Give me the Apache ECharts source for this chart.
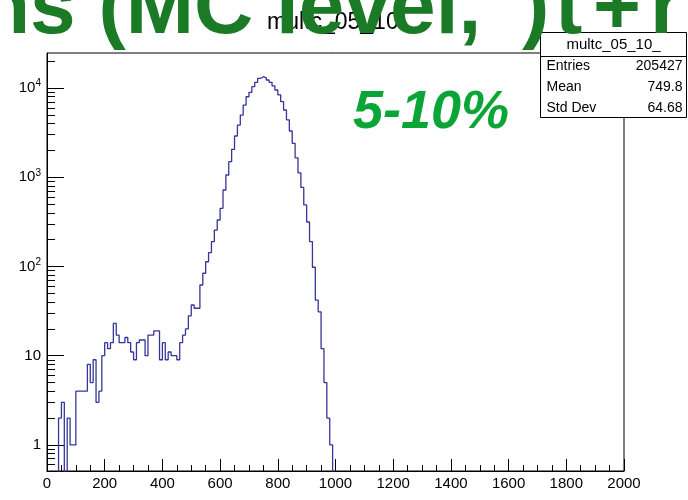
<!DOCTYPE html>
<html><head><meta charset="utf-8">
<script src="https://cdn.jsdelivr.net/npm/echarts@6/dist/echarts.min.js"></script>
<style>html,body{margin:0;padding:0;background:#fff}#c{width:688px;height:500px}</style>
</head><body><div id="c"></div>
<script>
// ---- data (bin width 10, left edges start at 0) ----
const binStart = 0;
const binWidth = 10;
const counts = [
  0,0,0,0,2,3,0,2,1,1,
  4,4,4,4,8,5,9,3,4,10,
  14,12,14,23,17,14,14,16,14,11,
  9,14,15,15,10,17,17,19,19,9,
  14,9,11,10,10,9,14,17,20,28,
  37,34,34,62,84,113,143,190,256,332,
  449,720,1060,1494,2054,2899,3846,4977,6450,7990,
  8950,10350,11600,12800,13400,13000,12300,11600,10600,9500,
  8400,7030,5670,4400,3300,2400,1650,1120,770,490,
  315,190,98,42,31,12,5,2,1,0,
  0
];
const xTicks = [0,200,400,600,800,1000,1200,1400,1600,1800,2000];
const yMajor = [1,10,100,1000,10000];
const yMinor = [0.6,0.7,0.8,0.9,2,3,4,5,6,7,8,9,20,30,40,50,60,70,80,90,200,300,400,500,600,700,800,900,2000,3000,4000,5000,6000,7000,8000,9000,20000];
const statsTitle = 'multc_05_10_';
const statsRows = [['Entries','205427'],['Mean','749.8'],['Std Dev','64.68']];
const histTitle = 'multc_05_10';
const bigTitleParts = ['ns (MC level,', ')', 't', '+', 'r'];
const centLabel = '5-10%';

const FONT = 'Liberation Sans, Arial, sans-serif';
const FLOOR = 1e-3; // empty bins drawn below the axis floor (clipped), like ROOT
const lineData = counts.map((v,i)=>[binStart+i*binWidth, v>0?v:FLOOR]);
lineData.push([binStart+counts.length*binWidth, counts[counts.length-1]>0?counts[counts.length-1]:FLOOR]);

const chart = echarts.init(document.getElementById('c'), null, {renderer:'canvas'});
const supFmt = v => {
  const e = Math.round(Math.log10(v));
  if (Math.abs(Math.log10(v)-e) > 1e-6) return '';
  if (e===0) return '{n|1}';
  if (e===1) return '{n|10}';
  return '{n|10}{s|'+e+'}';
};
const BIG = 'bold 82px "Liberation Sans", Arial, sans-serif';
const bigX = [-20, 522, 555, 593, 650];
chart.setOption({
  animation:false,
  backgroundColor:'#fff',
  grid:{left:47,right:64,top:53,bottom:29,show:true,borderColor:'#000',borderWidth:1,backgroundColor:'transparent'},
  xAxis:{type:'value',min:0,max:2000,interval:200,
    axisLine:{show:true,lineStyle:{color:'#000',width:1}},
    axisTick:{show:true,inside:true,length:12,lineStyle:{color:'#000'}},
    minorTick:{show:true,splitNumber:4,length:6,lineStyle:{color:'#000'}},
    splitLine:{show:false},
    axisLabel:{color:'#000',fontFamily:FONT,fontSize:15,margin:5,customValues:xTicks,formatter:v=>String(v)}
  },
  yAxis:[{type:'log',logBase:10,min:0.51,max:24700,
    axisLine:{show:true,lineStyle:{color:'#000',width:1}},
    axisTick:{show:true,inside:true,length:17,lineStyle:{color:'#000'},customValues:yMajor},
    splitLine:{show:false},
    axisLabel:{color:'#000',fontFamily:FONT,fontSize:15,margin:6,customValues:yMajor,formatter:supFmt,
      rich:{n:{fontFamily:FONT,fontSize:15,color:'#000'},s:{fontFamily:FONT,fontSize:10,color:'#000',verticalAlign:'top',padding:[0,0,9,0]}}}
  },{type:'log',logBase:10,min:0.51,max:24700,position:'left',
    axisLine:{show:false},
    axisTick:{show:true,inside:true,length:8,lineStyle:{color:'#000'},customValues:yMinor},
    axisLabel:{show:false},splitLine:{show:false}
  }],
  title:{text:histTitle,left:262,top:6,textStyle:{fontFamily:FONT,fontWeight:'normal',fontSize:23,color:'#000'}},
  series:[{type:'line',step:'end',data:lineData,symbol:'none',clip:true,
    lineStyle:{color:'#35359a',width:1.3}}],
  graphic:[
    ...bigTitleParts.map((t,i)=>({type:'text',x:bigX[i],y:51,z:100,silent:true,
      style:{text:t,font:BIG,fill:'#1a7a25',verticalAlign:'bottom'}})),
    {type:'text',left:353,top:86,z:100,style:{text:centLabel,fontFamily:FONT,fontWeight:'bold',fontStyle:'italic',fontSize:54,fill:'#0aa537'}},
    {type:'group',left:538,top:32,z:110,children:[
      {type:'rect',shape:{x:0,y:0,width:146,height:85},style:{fill:'#fff',stroke:'#000',lineWidth:1}},
      {type:'line',shape:{x1:0,y1:24,x2:146,y2:24},style:{stroke:'#000',lineWidth:1}},
      {type:'text',x:73,y:12,style:{text:statsTitle,fontFamily:FONT,fontSize:15,fill:'#000',align:'center',verticalAlign:'middle'}},
      ...statsRows.flatMap((r,i)=>[
        {type:'text',x:6,y:34+i*21,style:{text:r[0],fontFamily:FONT,fontSize:14,fill:'#000',verticalAlign:'middle'}},
        {type:'text',x:142,y:34+i*21,style:{text:r[1],fontFamily:FONT,fontSize:14,fill:'#000',align:'right',verticalAlign:'middle'}}
      ])
    ]}
  ]
});
</script></body></html>
